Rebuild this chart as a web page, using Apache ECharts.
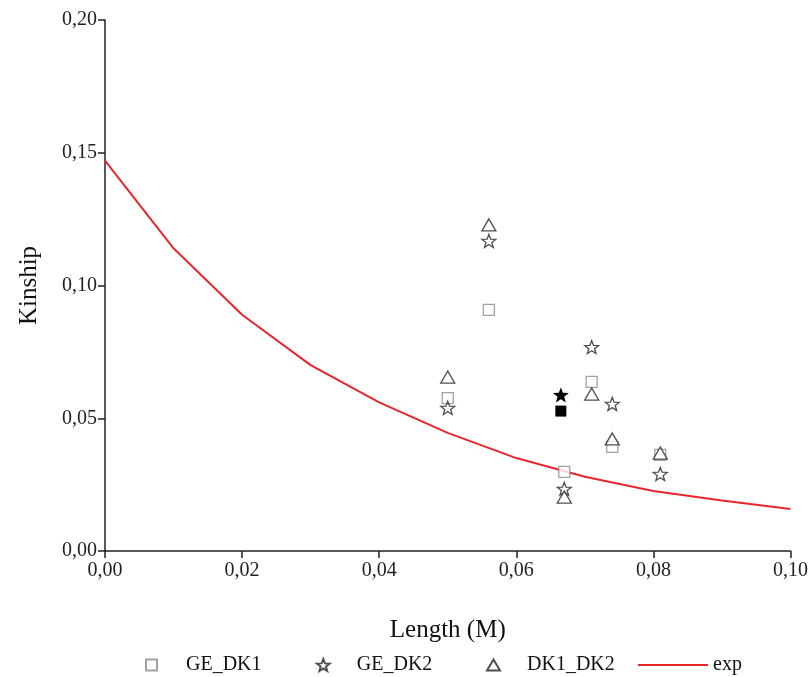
<!DOCTYPE html>
<html>
<head>
<meta charset="utf-8">
<script src="https://cdn.jsdelivr.net/npm/echarts@6/dist/echarts.min.js"></script>
<style>html,body{margin:0;padding:0;background:#fff}#c{width:811px;height:677px}</style>
</head>
<body>
<div id="c"></div>
<script>
// ---- data ----
var lengths = [0.050, 0.056, 0.067, 0.071, 0.074, 0.081];
var geDk1 = [0.0576, 0.0908, 0.0298, 0.0637, 0.0392, 0.0362];
var geDk2 = [0.0539, 0.1168, 0.0234, 0.0768, 0.0554, 0.0290];
var dk1Dk2 = [0.0655, 0.1228, 0.0203, 0.0591, 0.0422, 0.0369];
var meanX = [0.0665];
var meanGeDk1 = [0.0527];
var meanGeDk2 = [0.0588];
var expX = [0.00, 0.01, 0.02, 0.03, 0.04, 0.05, 0.06, 0.07, 0.08, 0.09, 0.10];
var expY = [0.147, 0.114, 0.089, 0.070, 0.056, 0.0445, 0.035, 0.028, 0.0226, 0.019, 0.0158];
var seriesNames = ['GE_DK1', 'GE_DK2', 'DK1_DK2', 'exp'];

function pairs(xs, ys) { return xs.map(function (x, i) { return [x, ys[i]]; }); }
function fmt(v) { return v.toFixed(2).replace('.', ','); }

var STAR = 'path://M10,0 L12.47,6.6 L19.51,6.91 L13.99,11.3 L15.88,18.09 L10,14.2 L4.12,18.09 L6.01,11.3 L0.49,6.91 L7.53,6.6 Z';
var FONT = 'Liberation Serif';

var chart = echarts.init(document.getElementById('c'));
var legendBase = {
  orient: 'horizontal', top: 650, itemHeight: 11, itemWidth: 11,
  textStyle: { fontFamily: FONT, fontSize: 20, color: '#111', padding: [0, 0, 0, 24] },
  selectedMode: false
};
chart.setOption({
  animation: false,
  backgroundColor: '#fff',
  grid: { left: 105, right: 20, top: 20, bottom: 126 },
  legend: [
    Object.assign({}, legendBase, { left: 140, data: [seriesNames[0]] }),
    Object.assign({}, legendBase, { left: 311, itemWidth: 13, itemHeight: 12, textStyle: Object.assign({}, legendBase.textStyle, { padding: [0, 0, 0, 22] }), data: [seriesNames[1]] }),
    Object.assign({}, legendBase, { left: 481, itemWidth: 13, itemHeight: 11, textStyle: Object.assign({}, legendBase.textStyle, { padding: [0, 0, 0, 22] }), data: [seriesNames[2]] }),
    Object.assign({}, legendBase, { left: 633, itemWidth: 70, itemHeight: 2, icon: 'rect', textStyle: Object.assign({}, legendBase.textStyle, { padding: 0 }), data: [seriesNames[3]] })
  ],
  xAxis: {
    type: 'value', min: 0, max: 0.10, interval: 0.02,
    name: 'Length (M)', nameLocation: 'middle', nameGap: 67,
    nameTextStyle: { fontFamily: FONT, fontSize: 25, color: '#111' },
    axisLine: { show: true, lineStyle: { color: '#222', width: 1.5 } },
    axisTick: { show: true, length: 7, lineStyle: { color: '#222', width: 1.5 } },
    axisLabel: { fontFamily: FONT, fontSize: 20, color: '#222', margin: 10, formatter: fmt },
    splitLine: { show: false }
  },
  yAxis: {
    type: 'value', min: 0, max: 0.20, interval: 0.05,
    name: 'Kinship', nameLocation: 'middle', nameGap: 63,
    nameTextStyle: { fontFamily: FONT, fontSize: 25, color: '#111' },
    axisLine: { show: true, lineStyle: { color: '#222', width: 1.5 } },
    axisTick: { show: true, length: 7, lineStyle: { color: '#222', width: 1.5 } },
    axisLabel: { fontFamily: FONT, fontSize: 20, color: '#222', margin: 8, formatter: fmt },
    splitLine: { show: false }
  },
  series: [
    {
      name: seriesNames[3], type: 'line', data: pairs(expX, expY),
      symbol: 'none', showSymbol: false, z: 1,
      lineStyle: { color: '#e8262b', width: 2 }, itemStyle: { color: '#e8262b' }
    },
    {
      name: seriesNames[0], type: 'scatter', data: pairs(lengths, geDk1),
      symbol: 'rect', symbolSize: 11, z: 3,
      itemStyle: { color: '#fff', borderColor: '#8a8a8a', borderWidth: 1.3 }
    },
    {
      name: seriesNames[1], type: 'scatter', data: pairs(lengths, geDk2),
      symbol: STAR, symbolSize: [14, 13], z: 3,
      itemStyle: { color: '#fff', borderColor: '#222', borderWidth: 1.3 }
    },
    {
      name: seriesNames[2], type: 'scatter', data: pairs(lengths, dk1Dk2),
      symbol: 'triangle', symbolSize: [14, 12], z: 3,
      itemStyle: { color: '#fff', borderColor: '#222', borderWidth: 1.3 }
    },
    {
      name: 'GE_DK1 mean', type: 'scatter', data: pairs(meanX, meanGeDk1),
      symbol: 'rect', symbolSize: 11, z: 4, itemStyle: { color: '#000', opacity: 1 }
    },
    {
      name: 'GE_DK2 mean', type: 'scatter', data: pairs(meanX, meanGeDk2),
      symbol: STAR, symbolSize: [16, 15], z: 4, itemStyle: { color: '#000', opacity: 1 }
    }
  ]
});
</script>
</body>
</html>
